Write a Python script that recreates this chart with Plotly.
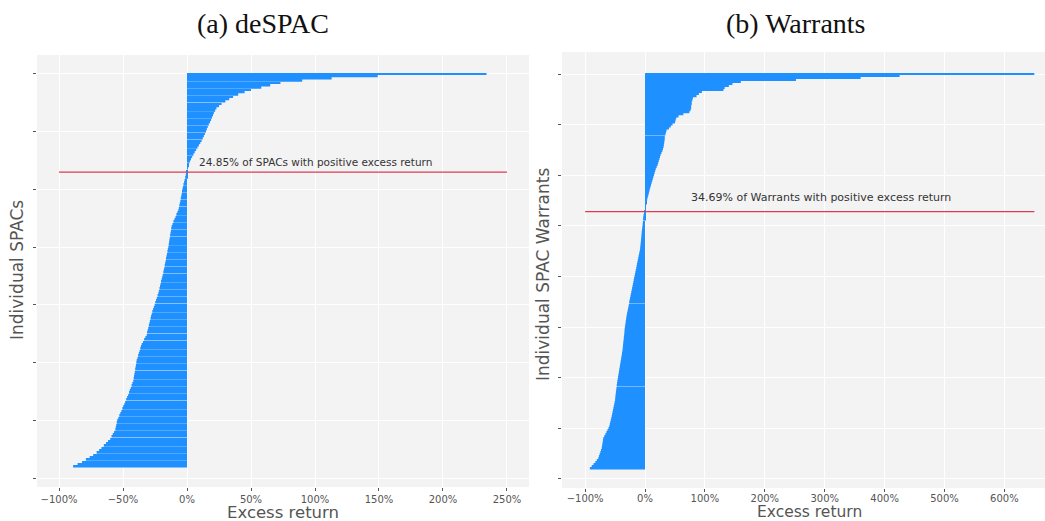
import plotly.graph_objects as go

# ---------------- data ----------------
# (a) deSPAC excess returns, sorted from largest (top) to smallest (bottom), in %
spac_returns = [
    234, 149, 113, 90, 73, 65, 58, 50, 45, 40,
    36, 33, 30, 27, 25, 23, 22, 21, 20.3, 19.5,
    18.8, 18, 17, 16.2, 15.5, 14.8, 14, 13.2, 12.3, 11.4,
    10.4, 9.3, 8.2, 7.1, 6.0, 5.0, 4.0, 3.1, 2.3, 1.6,
    1.0, 0.4,
    -0.2, -0.6, -1.0, -1.4, -1.9, -2.3, -2.8, -3.2, -3.6, -3.9,
    -4.2, -4.5, -4.9, -5.2, -5.6, -6.0, -6.4, -6.8, -7.5, -8.3,
    -9.0, -9.8, -10.6, -11.3, -12.0, -12.3, -12.6, -12.9, -13.2, -13.5,
    -13.8, -14.0, -14.3, -14.6, -15.0, -15.3, -15.7, -16.0, -16.4, -16.7,
    -17.1, -17.4, -17.8, -18.2, -18.5, -19.0, -19.4, -19.8, -20.3, -20.7,
    -21.1, -21.5, -22.0, -22.4, -23.0, -23.6, -24.2, -24.8, -25.3, -25.9,
    -26.5, -27.1, -27.6, -28.1, -28.5, -29.0, -29.4, -29.8, -30.3, -30.7,
    -31.2, -31.5, -32.5, -33.5, -34.4, -35.4, -36.0, -36.5, -37.1, -37.6,
    -38.2, -38.7, -39.3, -39.6, -39.9, -40.2, -40.5, -40.8, -41.1, -41.4,
    -41.7, -42.0, -42.7, -43.3, -44.0, -44.7, -45.3, -46.0, -46.8, -47.5,
    -48.3, -49.0, -49.8, -50.5, -51.3, -52.1, -52.9, -53.7, -54.5, -54.9,
    -55.3, -55.6, -56.0, -57.0, -58.0, -59.0, -60.0, -61.7, -63.3, -65.0,
    -66.9, -68.7, -70.6, -73.3, -76.0, -79.0, -82.0, -85.5, -89.0,
]

# (b) Warrant excess returns, sorted from largest (top) to smallest (bottom), in %
warrant_returns = [
    650, 425, 360, 252, 160, 146, 140, 133, 131, 95,
    90, 86, 80, 79, 78, 78, 77, 77, 76, 74,
    64, 56, 52, 51, 50, 46, 43, 40, 36, 35,
    34, 33, 33, 32.5, 32, 31.5, 31, 30, 29, 27.5,
    26, 25, 24, 23, 22, 21, 19.5, 18, 17, 16,
    15, 14, 13, 12, 11, 10, 9, 8, 7.2, 6.4,
    5.5, 4.6, 3.6, 2.6, 1.7, 1.1, 0.6, 0.2,
    -0.3, -1.2, -2.5, -2.9, -3.2, -3.5, -3.9, -4.3, -4.7, -5.1,
    -5.5, -5.8, -6.1, -6.4, -6.7, -7.0, -7.4, -7.8, -8.1, -8.6,
    -9.3, -10.0, -10.7, -11.4, -12.1, -12.8, -13.5, -14.0, -14.7, -15.4,
    -16.1, -16.8, -17.5, -18.2, -18.9, -19.5, -20.2, -20.9, -21.6, -22.2,
    -22.9, -23.6, -24.3, -25.0, -25.7, -26.4, -27.1, -27.8, -28.5, -29.2,
    -29.9, -30.6, -31.1, -31.6, -32.1, -32.6, -33.1, -33.6, -34.0, -34.3,
    -34.5, -34.9, -35.3, -35.6, -36.0, -36.4, -36.7, -37.0, -37.3, -37.9,
    -38.4, -38.9, -39.5, -40.0, -40.6, -41.1, -41.7, -42.3, -42.8, -43.4,
    -43.9, -44.5, -45.0, -45.6, -46.2, -46.7, -47.2, -47.7, -48.2, -48.6,
    -49.0, -49.4, -49.8, -50.0, -50.7, -51.4, -52.1, -52.8, -53.5, -54.2,
    -54.9, -55.6, -56.4, -57.2, -58.0, -58.8, -59.6, -61.0, -62.7, -64.5,
    -66.2, -68.0, -69.6, -70.2, -70.7, -71.2, -71.8, -72.3, -73.5, -74.6,
    -75.7, -76.9, -78.0, -80.5, -83.0, -86.0, -89.0, -92.0,
]

spac_pct_positive = 24.85
warrant_pct_positive = 34.69

spac_xticks = [-100, -50, 0, 50, 100, 150, 200, 250]
spac_xticklabels = ["\u2212100%", "\u221250%", "0%", "50%", "100%", "150%", "200%", "250%"]
warrant_xticks = [-100, 0, 100, 200, 300, 400, 500, 600]
warrant_xticklabels = ["\u2212100%", "0%", "100%", "200%", "300%", "400%", "500%", "600%"]
spac_yticks = [0, 25, 50, 75, 100, 125, 150, 175]
warrant_yticks = [0, 25, 50, 75, 100, 125, 150, 175, 200]

titles = ["(a) deSPAC", "(b) Warrants"]
ylabels = ["Individual SPACs", "Individual SPAC Warrants"]
xlabel = "Excess return"
spac_note = f"{spac_pct_positive:.2f}% of SPACs with positive excess return"
warrant_note = f"{warrant_pct_positive:.2f}% of Warrants with positive excess return"

# ---------------- styling ----------------
BAR = "#1E90FF"
LINE = "#DC3C55"
BG = "#F3F3F3"
TXT = "#555555"
W, H = 1045, 521

n_s = len(spac_returns)
n_w = len(warrant_returns)
y_s = list(range(n_s))
y_w = list(range(n_w))
line_y_s = spac_pct_positive / 100 * n_s
line_y_w = warrant_pct_positive / 100 * n_w

fig = go.Figure()
fig.add_trace(go.Bar(x=spac_returns, y=y_s, orientation="h",
                     marker=dict(color=BAR, line=dict(width=0)),
                     xaxis="x", yaxis="y", showlegend=False, hoverinfo="x"))
fig.add_trace(go.Bar(x=warrant_returns, y=y_w, orientation="h",
                     marker=dict(color=BAR, line=dict(width=0)),
                     xaxis="x2", yaxis="y2", showlegend=False, hoverinfo="x"))
fig.add_trace(go.Scatter(x=[-100, 250], y=[line_y_s, line_y_s], mode="lines",
                         line=dict(color=LINE, width=1.3), xaxis="x", yaxis="y",
                         showlegend=False, hoverinfo="skip"))
fig.add_trace(go.Scatter(x=[-100, max(warrant_returns)], y=[line_y_w, line_y_w], mode="lines",
                         line=dict(color=LINE, width=1.3), xaxis="x2", yaxis="y2",
                         showlegend=False, hoverinfo="skip"))

tickfont = dict(family="DejaVu Sans", size=10, color=TXT)
common_x = dict(showgrid=True, gridcolor="white", gridwidth=1, zeroline=False,
                ticks="outside", ticklen=3, tickcolor=TXT, tickfont=tickfont,
                showline=False, tickmode="array")
common_y = dict(showgrid=True, gridcolor="white", gridwidth=1, zeroline=False,
                ticks="outside", ticklen=3, tickcolor=TXT, showticklabels=False,
                showline=False, tickmode="array")

fig.update_layout(
    width=W, height=H,
    margin=dict(l=0, r=0, t=0, b=0),
    paper_bgcolor="white", plot_bgcolor=BG,
    bargap=0.2,
    xaxis=dict(domain=[37 / W, 529 / W], range=[-117.2, 267.2],
               tickvals=spac_xticks, ticktext=spac_xticklabels, anchor="y", **common_x),
    yaxis=dict(domain=[(H - 487) / H, (H - 55) / H], range=[178.8, -8.2],
               tickvals=spac_yticks, anchor="x", **common_y),
    xaxis2=dict(domain=[562 / W, 1.0], range=[-138.6, 667.8],
                tickvals=warrant_xticks, ticktext=warrant_xticklabels, anchor="y2",
                ticklabelstandoff=-2, **common_x),
    yaxis2=dict(domain=[(H - 488) / H, (H - 52) / H], range=[204.5, -10.9],
                tickvals=warrant_yticks, anchor="x2", **common_y),
)

ann = []
title_font = dict(family="Liberation Serif", size=28, color="#111111")
ann.append(dict(text=titles[0], x=263 / W, y=(H - 23) / H, xref="paper", yref="paper",
                showarrow=False, font=title_font, xanchor="center", yanchor="middle"))
ann.append(dict(text=titles[1], x=796 / W, y=(H - 23) / H, xref="paper", yref="paper",
                showarrow=False, font=title_font, xanchor="center", yanchor="middle"))
label_font = dict(family="DejaVu Sans", size=17, color=TXT)
ann.append(dict(text=xlabel, x=283 / W, y=(H - 512) / H, xref="paper", yref="paper",
                showarrow=False, font=dict(family="DejaVu Sans", size=16.5, color=TXT),
                xanchor="center", yanchor="middle", borderpad=0))
ann.append(dict(text=xlabel, x=809 / W, y=(H - 511.5) / H, xref="paper", yref="paper",
                showarrow=False, font=dict(family="DejaVu Sans", size=15.5, color=TXT),
                xanchor="center", yanchor="middle", borderpad=0))
ann.append(dict(text=ylabels[0], x=17 / W, y=(H - 270) / H, xref="paper", yref="paper",
                showarrow=False, font=label_font, textangle=-90,
                xanchor="center", yanchor="middle"))
ann.append(dict(text=ylabels[1], x=543 / W, y=(H - 275) / H, xref="paper", yref="paper",
                showarrow=False, font=label_font, textangle=-90,
                xanchor="center", yanchor="middle"))
ann.append(dict(text=spac_note, x=7.6, y=38, xref="x", yref="y", showarrow=False,
                font=dict(family="DejaVu Sans", size=10.5, color="#333333"),
                xanchor="left", yanchor="middle"))
ann.append(dict(text=warrant_note, x=73.5, y=61, xref="x2", yref="y2", showarrow=False,
                font=dict(family="DejaVu Sans", size=11, color="#333333"),
                xanchor="left", yanchor="middle"))
fig.update_layout(annotations=ann)

fig.write_html("out.html")
